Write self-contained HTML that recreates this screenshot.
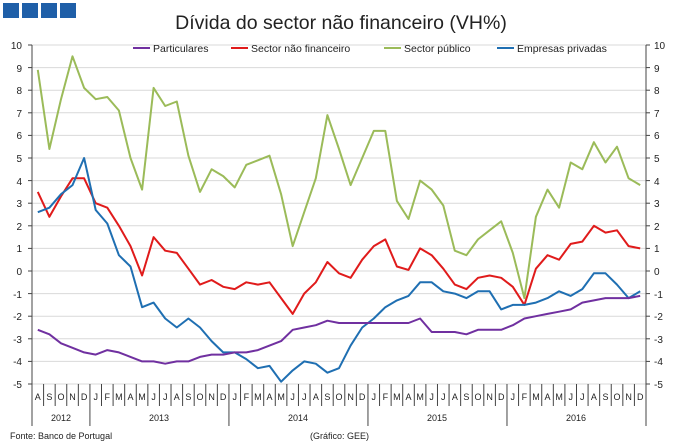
<!DOCTYPE html>
<html><head><meta charset="utf-8"><style>
body{margin:0;background:#fff;}
svg{display:block;font-family:"Liberation Sans",sans-serif;}
</style></head><body>
<svg id="c" width="680" height="447" xmlns="http://www.w3.org/2000/svg">
<rect x="3" y="3" width="16" height="15" fill="#1f5fa8"/>
<rect x="22" y="3" width="16" height="15" fill="#1f5fa8"/>
<rect x="41" y="3" width="16" height="15" fill="#1f5fa8"/>
<rect x="60" y="3" width="16" height="15" fill="#1f5fa8"/>
<text x="341" y="29" font-size="19.5" text-anchor="middle" fill="#222">Dívida do sector não financeiro (VH%)</text>
<g id="grid"></g>
<g font-size="10" fill="#222" text-anchor="end">
<text x="22" y="49">10</text><text x="22" y="72">9</text><text x="22" y="94">8</text><text x="22" y="117">7</text><text x="22" y="139">6</text><text x="22" y="162">5</text><text x="22" y="185">4</text><text x="22" y="207">3</text><text x="22" y="230">2</text><text x="22" y="252">1</text><text x="22" y="275">0</text><text x="22" y="298">-1</text><text x="22" y="320">-2</text><text x="22" y="343">-3</text><text x="22" y="365">-4</text><text x="22" y="388">-5</text>
</g>
<g font-size="10" fill="#222" text-anchor="start">
<text x="654" y="49">10</text><text x="654" y="72">9</text><text x="654" y="94">8</text><text x="654" y="117">7</text><text x="654" y="139">6</text><text x="654" y="162">5</text><text x="654" y="185">4</text><text x="654" y="207">3</text><text x="654" y="230">2</text><text x="654" y="252">1</text><text x="654" y="275">0</text><text x="654" y="298">-1</text><text x="654" y="320">-2</text><text x="654" y="343">-3</text><text x="654" y="365">-4</text><text x="654" y="388">-5</text>
</g>
<g font-size="10.5" fill="#222">
<line x1="133" y1="48" x2="150" y2="48" stroke="#7030a0" stroke-width="2"/><text x="153" y="52">Particulares</text>
<line x1="231" y1="48" x2="248" y2="48" stroke="#e01b1b" stroke-width="2"/><text x="251" y="52">Sector não financeiro</text>
<line x1="384" y1="48" x2="401" y2="48" stroke="#9bbb59" stroke-width="2"/><text x="404" y="52">Sector público</text>
<line x1="497" y1="48" x2="514" y2="48" stroke="#1f6fb2" stroke-width="2"/><text x="517" y="52">Empresas privadas</text>
</g>
<g id="series"></g>
<g id="xaxis" font-size="9" fill="#222" text-anchor="middle"></g>
<g font-size="9" fill="#222" text-anchor="middle">
<text x="61" y="421">2012</text><text x="159" y="421">2013</text><text x="298" y="421">2014</text><text x="437" y="421">2015</text><text x="576" y="421">2016</text>
</g>
<text x="10" y="439" font-size="9" fill="#222">Fonte: Banco de Portugal</text>
<text x="310" y="439" font-size="9" fill="#222">(Gráfico: GEE)</text>
</svg>
<script>
var L=32,R=646,T=45,B=384,n=53,w=(R-L)/n;
function Y(v){return 271-v*22.6;}
function X(i){return L+(i+0.5)*w;}
var ns="http://www.w3.org/2000/svg";
function el(g,t,a){var e=document.createElementNS(ns,t);for(var k in a)e.setAttribute(k,a[k]);document.getElementById(g).appendChild(e);return e;}
for(var v=10;v>=-5;v--){el("grid","line",{x1:L,x2:R,y1:Y(v),y2:Y(v),stroke:"#d9d9d9","stroke-width":1});
el("grid","line",{x1:L-4,x2:L,y1:Y(v),y2:Y(v),stroke:"#444"});el("grid","line",{x1:R,x2:R+4,y1:Y(v),y2:Y(v),stroke:"#444"});}
el("grid","line",{x1:L,x2:L,y1:T,y2:B,stroke:"#444"});el("grid","line",{x1:R,x2:R,y1:T,y2:B,stroke:"#444"});
var months="ASONDJFMAMJJASONDJFMAMJJASONDJFMAMJJASONDJFMAMJJASOND".split("");
for(var i=0;i<n;i++){var t=el("xaxis","text",{x:X(i),y:400});t.textContent=months[i];}
for(var i=0;i<=n;i++){var x=L+i*w;var yr=(i==0||i==5||i==17||i==29||i==41||i==53);
el("xaxis","line",{x1:x,x2:x,y1:B,y2:yr?426:406,stroke:"#444"});}
var d={
"#9bbb59":[8.9,5.4,7.6,9.5,8.1,7.6,7.7,7.1,5.0,3.6,8.1,7.3,7.5,5.1,3.5,4.5,4.2,3.7,4.7,4.9,5.1,3.4,1.1,2.6,4.1,6.9,5.4,3.8,5.0,6.2,6.2,3.1,2.3,4.0,3.6,2.9,0.9,0.7,1.4,1.8,2.2,0.8,-1.2,2.4,3.6,2.8,4.8,4.5,5.7,4.8,5.5,4.1,3.8],
"#e01b1b":[3.5,2.4,3.3,4.1,4.1,3.0,2.8,2.0,1.1,-0.2,1.5,0.9,0.8,0.1,-0.6,-0.4,-0.7,-0.8,-0.5,-0.6,-0.5,-1.2,-1.9,-1.0,-0.5,0.4,-0.1,-0.3,0.5,1.1,1.4,0.2,0.05,1.0,0.7,0.1,-0.6,-0.8,-0.3,-0.2,-0.3,-0.7,-1.5,0.1,0.7,0.5,1.2,1.3,2.0,1.7,1.8,1.1,1.0],
"#1f6fb2":[2.6,2.8,3.4,3.8,5.0,2.7,2.1,0.7,0.2,-1.6,-1.4,-2.1,-2.5,-2.1,-2.5,-3.1,-3.6,-3.6,-3.9,-4.3,-4.2,-4.9,-4.4,-4.0,-4.1,-4.5,-4.3,-3.3,-2.5,-2.1,-1.6,-1.3,-1.1,-0.5,-0.5,-0.9,-1.0,-1.2,-0.9,-0.9,-1.7,-1.5,-1.5,-1.4,-1.2,-0.9,-1.1,-0.8,-0.1,-0.1,-0.6,-1.2,-0.9],
"#7030a0":[-2.6,-2.8,-3.2,-3.4,-3.6,-3.7,-3.5,-3.6,-3.8,-4.0,-4.0,-4.1,-4.0,-4.0,-3.8,-3.7,-3.7,-3.6,-3.6,-3.5,-3.3,-3.1,-2.6,-2.5,-2.4,-2.2,-2.3,-2.3,-2.3,-2.3,-2.3,-2.3,-2.3,-2.1,-2.7,-2.7,-2.7,-2.8,-2.6,-2.6,-2.6,-2.4,-2.1,-2.0,-1.9,-1.8,-1.7,-1.4,-1.3,-1.2,-1.2,-1.2,-1.1]};
for(var c in d){var p=d[c].map(function(v,i){return X(i).toFixed(1)+","+Y(v).toFixed(1);}).join(" ");
el("series","polyline",{points:p,fill:"none",stroke:c,"stroke-width":2,"stroke-linejoin":"round"});}
</script>
</body></html>
